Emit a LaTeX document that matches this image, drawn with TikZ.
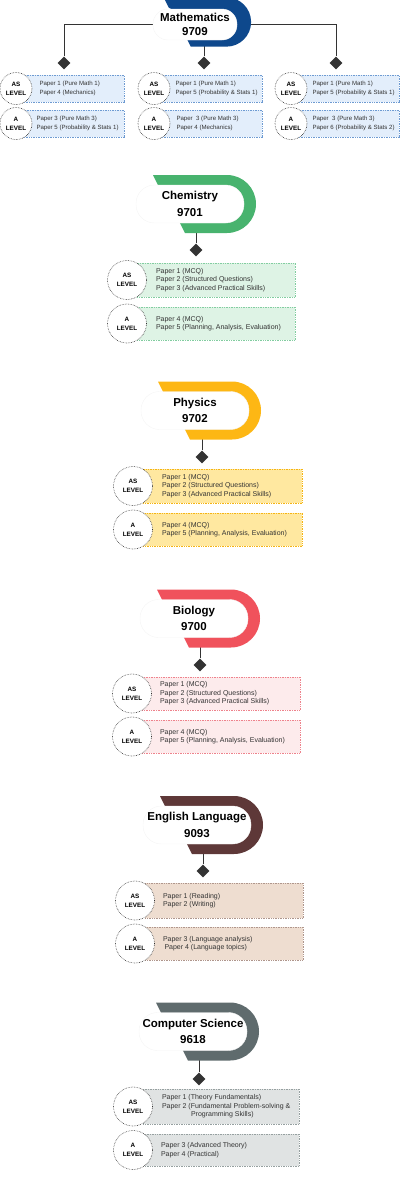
\documentclass[tikz,border=0pt]{standalone}
\usepackage{fontspec}
\setmainfont{Liberation Sans}
\usetikzlibrary{positioning, calc, shapes.geometric, backgrounds}
\definecolor{ink}{RGB}{51,51,51}
\definecolor{mathBlue}{RGB}{14,72,140}
\definecolor{mathFill}{RGB}{227,238,251}
\definecolor{mathLine}{RGB}{110,155,210}
\definecolor{chemGreen}{RGB}{72,179,110}
\definecolor{chemFill}{RGB}{222,243,229}
\definecolor{chemLine}{RGB}{130,205,160}
\definecolor{physAmber}{RGB}{253,183,20}
\definecolor{physFill}{RGB}{255,232,160}
\definecolor{physLine}{RGB}{245,180,20}
\definecolor{bioRed}{RGB}{240,82,92}
\definecolor{bioFill}{RGB}{253,235,236}
\definecolor{bioLine}{RGB}{238,130,140}
\definecolor{engBrown}{RGB}{94,56,56}
\definecolor{engFill}{RGB}{238,221,208}
\definecolor{engLine}{RGB}{175,150,140}
\definecolor{csGray}{RGB}{95,107,109}
\definecolor{csFill}{RGB}{224,227,227}
\definecolor{csLine}{RGB}{150,160,160}

\begin{document}
\begin{tikzpicture}[x=1pt, y=1pt,
  pill/.style={fill=white, draw=black!4, line width=0.4pt, rounded corners=18.5pt,
               minimum width=108pt, minimum height=38pt, inner sep=0pt, align=center,
               font=\bfseries\fontsize{11.5}{16.5}\selectfont},
  dia/.style={diamond, fill=ink, minimum size=13pt, inner sep=0pt},
  link/.style={draw=ink, line width=0.8pt},
  lvl/.style={circle, draw=ink, densely dotted, line width=0.6pt, fill=white,
              minimum size=39pt, inner sep=0pt, align=center,
              font=\bfseries\fontsize{6.3}{9}\selectfont},
  papers/.style={rectangle, densely dotted, line width=0.7pt, anchor=west,
                 minimum width=158pt, minimum height=34pt, inner sep=0pt},
  ptext/.style={font=\fontsize{7}{8.5}\selectfont, text=ink, align=left, inner sep=0pt},
  mtext/.style={ptext, font=\fontsize{6.1}{8.3}\selectfont},
  subjband/.pic={\fill[pic actions] (-37,29) -- (37,29) arc[start angle=90, end angle=-90, radius=29]
                 -- (-5,-29) -- (-11,-17) -- (0,0) -- (-31,17) -- cycle;}
]
\useasboundingbox (0,0) rectangle (400,-1200);

% Mathematics
\node[pill, minimum width=84pt, minimum height=31pt, rounded corners=15pt,
      font=\bfseries\fontsize{11.5}{14}\selectfont] (mathPill) at (195,-24.5) {Mathematics\\9709};
\node[dia] (mathDiaL) at (64,-63) {};
\node[dia] (mathDiaC) at (204,-63) {};
\node[dia] (mathDiaR) at (336,-63) {};
\foreach \col/\bx in {1/22, 2/160, 3/297} {
  \node[papers, draw=mathLine, fill=mathFill, minimum width=102pt, minimum height=27pt]
    (mathAS\col box) at (\bx,-88.5) {};
  \node[papers, draw=mathLine, fill=mathFill, minimum width=102pt, minimum height=27pt]
    (mathA\col box) at (\bx,-123.5) {};
  \node[lvl, minimum size=32pt, xshift=-6pt] (mathAS\col) at (mathAS\col box.west) {AS\\LEVEL};
  \node[lvl, minimum size=32pt, xshift=-6pt] (mathA\col) at (mathA\col box.west) {A\\LEVEL};
}
\node[mtext, right=7pt of mathAS1] (mathAS1txt) {Paper 1 (Pure Math 1)\\Paper 4 (Mechanics)};
\node[mtext, right=4pt of mathA1] (mathA1txt) {Paper 3 (Pure Math 3)\\Paper 5 (Probability \& Stats 1)};
\node[mtext, right=5pt of mathAS2] (mathAS2txt) {Paper 1 (Pure Math 1)\\Paper 5 (Probability \& Stats 1)};
\node[mtext, right=6pt of mathA2] (mathA2txt) {Paper\ \ 3 (Pure Math 3)\\Paper 4 (Mechanics)};
\node[mtext, right=5pt of mathAS3] (mathAS3txt) {Paper 1 (Pure Math 1)\\Paper 5 (Probability \& Stats 1)};
\node[mtext, right=5pt of mathA3] (mathA3txt) {Paper\ \ 3 (Pure Math 3)\\Paper 6 (Probability \& Stats 2)};

% Chemistry
\node[pill] (chemPill) at (190,-204) {Chemistry\\9701};
\node[dia] (chemDia) at (196,-250) {};
\node[papers, draw=chemLine, fill=chemFill] (chemASbox) at (137,-280) {};
\node[papers, draw=chemLine, fill=chemFill, minimum height=33pt] (chemAbox) at (137,-323.5) {};
\node[lvl, xshift=-10pt] (chemAS) at (chemASbox.west) {AS\\LEVEL};
\node[lvl, xshift=-10pt] (chemA) at (chemAbox.west) {A\\LEVEL};
\node[ptext, right=9pt of chemAS] (chemAStxt) {Paper 1 (MCQ)\\Paper 2 (Structured Questions)\\Paper 3 (Advanced Practical Skills)};
\node[ptext, right=9pt of chemA] (chemAtxt) {Paper 4 (MCQ)\\Paper 5 (Planning, Analysis, Evaluation)};

% Physics
\node[pill] (physPill) at (195,-410.5) {Physics\\9702};
\node[dia] (physDia) at (202,-457) {};
\node[papers, draw=physLine, fill=physFill, minimum width=159pt] (physASbox) at (143,-486) {};
\node[papers, draw=physLine, fill=physFill, minimum width=159pt, minimum height=33pt] (physAbox) at (143,-529.5) {};
\node[lvl, xshift=-10pt] (physAS) at (physASbox.west) {AS\\LEVEL};
\node[lvl, xshift=-10pt] (physA) at (physAbox.west) {A\\LEVEL};
\node[ptext, right=9pt of physAS] (physAStxt) {Paper 1 (MCQ)\\Paper 2 (Structured Questions)\\Paper 3 (Advanced Practical Skills)};
\node[ptext, right=9pt of physA] (physAtxt) {Paper 4 (MCQ)\\Paper 5 (Planning, Analysis, Evaluation)};

% Biology
\node[pill] (bioPill) at (194,-618.5) {Biology\\9700};
\node[dia] (bioDia) at (200,-665) {};
\node[papers, draw=bioLine, fill=bioFill, minimum height=33pt] (bioASbox) at (142,-693.5) {};
\node[papers, draw=bioLine, fill=bioFill, minimum height=33pt] (bioAbox) at (142,-736.5) {};
\node[lvl, xshift=-10pt] (bioAS) at (bioASbox.west) {AS\\LEVEL};
\node[lvl, xshift=-10pt] (bioA) at (bioAbox.west) {A\\LEVEL};
\node[ptext, right=8pt of bioAS] (bioAStxt) {Paper 1 (MCQ)\\Paper 2 (Structured Questions)\\Paper 3 (Advanced Practical Skills)};
\node[ptext, right=8pt of bioA] (bioAtxt) {Paper 4 (MCQ)\\Paper 5 (Planning, Analysis, Evaluation)};

% English Language
\node[pill] (engPill) at (197,-825) {English Language\\9093};
\node[dia] (engDia) at (203,-871) {};
\node[papers, draw=engLine, fill=engFill, minimum height=35pt] (engASbox) at (145,-900.5) {};
\node[papers, draw=engLine, fill=engFill, minimum height=33pt] (engAbox) at (145,-943.5) {};
\node[lvl, xshift=-10pt] (engAS) at (engASbox.west) {AS\\LEVEL};
\node[lvl, xshift=-10pt] (engA) at (engAbox.west) {A\\LEVEL};
\node[ptext, right=8pt of engAS] (engAStxt) {Paper 1 (Reading)\\Paper 2 (Writing)};
\node[ptext, right=8pt of engA] (engAtxt) {Paper 3 (Language analysis)\\\hspace*{1.5pt}Paper 4 (Language topics)};

% Computer Science
\node[pill] (csPill) at (193,-1031.5) {Computer Science\\9618};
\node[dia] (csDia) at (199,-1079) {};
\node[papers, draw=csLine, fill=csFill, minimum width=156pt, minimum height=35pt] (csASbox) at (143,-1106.5) {};
\node[papers, draw=csLine, fill=csFill, minimum width=156pt, minimum height=32pt] (csAbox) at (143,-1150) {};
\node[lvl, xshift=-10pt] (csAS) at (csASbox.west) {AS\\LEVEL};
\node[lvl, xshift=-10pt] (csA) at (csAbox.west) {A\\LEVEL};
\node[ptext, right=9pt of csAS] (csAStxt) {Paper 1 (Theory Fundamentals)\\Paper 2 (Fundamental Problem-solving \&\\\hspace*{29pt}Programming Skills)};
\node[ptext, right=8pt of csA] (csAtxt) {Paper 3 (Advanced Theory)\\Paper 4 (Practical)};

% connectors and coloured bands behind the title pills
\begin{scope}[on background layer]
\draw[link] (mathDiaL) |- (mathPill) -| (mathDiaR);
\draw[link] (mathDiaC) -- (mathDiaC |- mathPill);
\draw[link] (chemDia) -- (chemDia |- chemPill);
\draw[link] (physDia) -- (physDia |- physPill);
\draw[link] (bioDia) -- (bioDia |- bioPill);
\draw[link] (engDia) -- (engDia |- engPill);
\draw[link] (csDia) -- (csDia |- csPill);
\pic[fill=mathBlue, scale=0.85] at (195,-22) {subjband};
\pic[fill=chemGreen] at (190,-204) {subjband};
\pic[fill=physAmber] at (195,-410.5) {subjband};
\pic[fill=bioRed] at (194,-618.5) {subjband};
\pic[fill=engBrown] at (197,-825) {subjband};
\pic[fill=csGray] at (193,-1031.5) {subjband};
\end{scope}
\end{tikzpicture}
\end{document}
